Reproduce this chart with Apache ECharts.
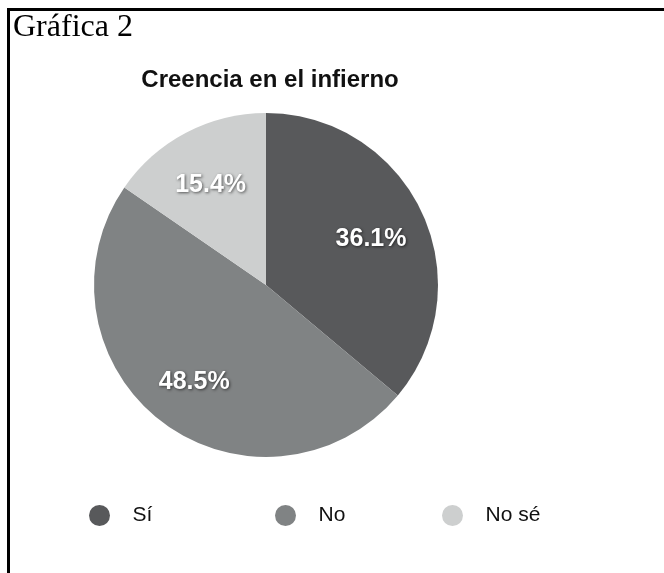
<!DOCTYPE html>
<html><head><meta charset="utf-8">
<script src="https://cdn.jsdelivr.net/npm/echarts@6/dist/echarts.min.js"></script>
<style>html,body{margin:0;padding:0;background:#fff}#c{width:664px;height:573px}</style>
</head><body><div id="c"></div>
<script>
const categories = ['Sí', 'No', 'No sé'];
const values = [36.1, 48.5, 15.4];
const sliceColors = ['#58595b', '#808384', '#cdcfcf'];
const chartTitle = 'Creencia en el infierno';
const figureLabel = 'Gráfica 2';

const chart = echarts.init(document.getElementById('c'), null, {renderer: 'canvas'});
const pieData = categories.map((n, i) => ({name: n, value: values[i], itemStyle: {color: sliceColors[i]}}));
const labelData = categories.map((n, i) => ({name: n, value: values[i]}));
const legendLefts = [84, 270, 437];
const SANS = '"Liberation Sans", Arial, Helvetica, sans-serif';

chart.setOption({
  animation: false,
  backgroundColor: '#ffffff',
  title: {
    text: chartTitle,
    left: 265, top: 63, textAlign: 'center',
    textStyle: {fontFamily: SANS, fontSize: 24, fontWeight: 'bold', color: '#111'}
  },
  legend: categories.map((n, i) => ({
    data: [n], left: legendLefts[i], top: 500, orient: 'horizontal',
    icon: 'circle', itemWidth: 56, itemHeight: 21, selectedMode: false,
    textStyle: {fontFamily: SANS, fontSize: 21, color: '#111'}
  })),
  graphic: [
    {type: 'rect', shape: {x: 7, y: 8, width: 657, height: 3}, style: {fill: '#000'}, silent: true},
    {type: 'rect', shape: {x: 7, y: 8, width: 3, height: 565}, style: {fill: '#000'}, silent: true},
    {type: 'text', left: 13, top: 12, style: {text: figureLabel, font: '32px "Liberation Serif", "Times New Roman", serif', fill: '#000'}, silent: true}
  ],
  series: [
    {
      type: 'pie', center: [266, 285], radius: [0, 172], startAngle: 90, clockwise: true,
      silent: true, label: {show: false}, labelLine: {show: false},
      data: pieData
    },
    {
      type: 'pie', center: [266, 285], radius: [0, 228], startAngle: 90, clockwise: true,
      silent: true, itemStyle: {color: 'rgba(0,0,0,0)'},
      label: {
        show: true, position: 'inside', offset: [-1, 4],
        formatter: p => p.value.toFixed(1) + '%',
        fontFamily: SANS, fontSize: 25, fontWeight: 'bold', color: '#fff',
        textShadowColor: 'rgba(0,0,0,0.6)', textShadowBlur: 3, textShadowOffsetX: 1, textShadowOffsetY: 1
      },
      labelLine: {show: false},
      data: labelData
    }
  ]
});
</script></body></html>
